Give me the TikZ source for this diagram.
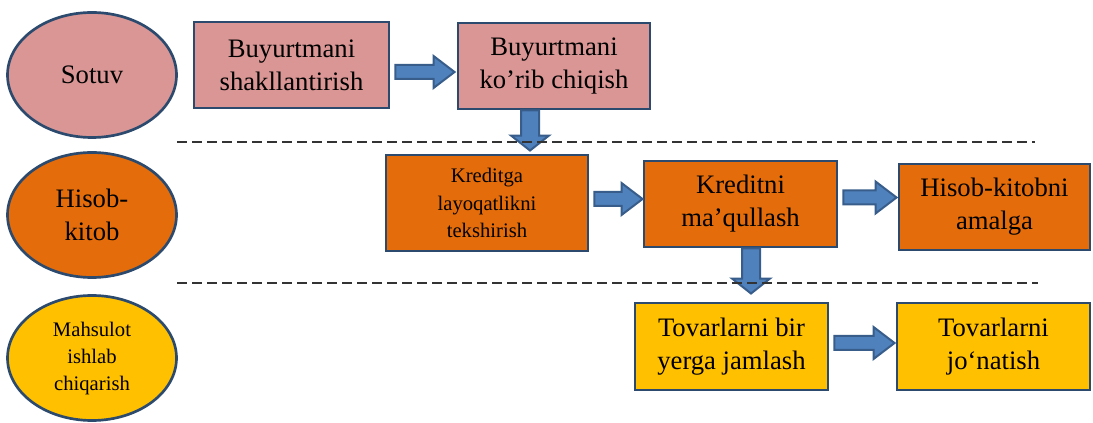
\documentclass[tikz,border=0pt]{standalone}
\usepackage{fontspec}
\setmainfont{Liberation Serif}
\usepackage{tikz}
\usetikzlibrary{calc, shapes}
\definecolor{sotuvpink}{RGB}{217,150,148}
\definecolor{hisoborange}{RGB}{228,108,10}
\definecolor{mahsulotyellow}{RGB}{255,192,0}
\definecolor{arrowblue}{RGB}{79,129,189}
\definecolor{arrowedge}{RGB}{56,93,138}
\definecolor{edgeblue}{RGB}{44,74,110}

\tikzset{
    stage/.style={draw=edgeblue, line width=2.2pt, align=center, inner sep=2pt, font=\fontsize{20}{24.75}\selectfont},
    dept/.style={ellipse, draw=edgeblue, line width=2pt, align=center, inner sep=0pt, minimum width=126.75pt, minimum height=93.75pt, font=\fontsize{20}{24.75}\selectfont},
    smalltext/.style={font=\fontsize{15.5}{20.6}\selectfont},
    blockarrow/.style={fill=arrowblue, draw=arrowedge, line width=1.5pt, line join=miter},
    lane/.style={dash pattern=on 7.5pt off 3.75pt, line width=1pt, black!80}
}

% block arrows (from, to, y, tip gap) and (from, to, x, tip gap)
\newcommand{\harrow}[4]{%
    \coordinate (tail) at (#1.east |- 0,#3);
    \coordinate (tip) at ($(#2.west |- 0,#3)+(-#4,0)$);
    \draw[blockarrow] ($(tail)+(5,-7)$) -- ($(tip)+(-21,-7)$) -- ($(tip)+(-21,-16)$) -- (tip)
        -- ($(tip)+(-21,16)$) -- ($(tip)+(-21,7)$) -- ($(tail)+(5,7)$) -- cycle;
}
\newcommand{\varrow}[4]{%
    \coordinate (tail) at (#3,0 |- #1.south);
    \coordinate (tip) at ($(#3,0 |- #2.north)+(0,-#4)$);
    \draw[blockarrow] ($(tail)+(-9,0)$) -- ($(tip)+(-9,-15)$) -- ($(tip)+(-19,-15)$) -- (tip)
        -- ($(tip)+(19,-15)$) -- ($(tip)+(9,-15)$) -- ($(tail)+(9,0)$) -- cycle;
}

\begin{document}
\begin{tikzpicture}[x=0.75pt, y=-0.75pt]
    \useasboundingbox (0,0) rectangle (1093,423);

    % Bo'limlar
    \node[dept, fill=sotuvpink] (sotuv) at (92,75) {Sotuv};
    \node[dept, fill=hisoborange] (hisob) at (92,215) {Hisob-\\kitob};
    \node[dept, fill=mahsulotyellow, smalltext] (mahsulot) at (92,358) {\raisebox{-5pt}{\begin{tabular}{@{}c@{}}Mahsulot\\ishlab\\chiqarish\end{tabular}}};

    % Jarayonlar
    \node[stage, fill=sotuvpink, minimum width=146.25pt, minimum height=64.5pt] (shakl) at (291.5,65) {Buyurtmani\\shakllantirish};
    \node[stage, fill=sotuvpink, minimum width=144pt, minimum height=64.5pt] (korib) at (554,66) {Buyurtmani\\ko’rib chiqish};
    \node[stage, fill=hisoborange, smalltext, minimum width=151.5pt, minimum height=72pt] (kredit) at (487,203) {Kreditga\\layoqatlikni\\tekshirish};
    \node[stage, fill=hisoborange, minimum width=144.75pt, minimum height=64.5pt] (maqul) at (740.5,204) {Kreditni\\ma’qullash};
    \node[stage, fill=hisoborange, minimum width=143.25pt, minimum height=64.5pt] (amalga) at (994.5,207) {Hisob-kitobni\\amalga};
    \node[stage, fill=mahsulotyellow, minimum width=144.75pt, minimum height=65.25pt] (jamlash) at (731.5,346.5) {Tovarlarni bir\\yerga jamlash};
    \node[stage, fill=mahsulotyellow, minimum width=144.75pt, minimum height=65.25pt] (jonatish) at (993.5,346.5) {Tovarlarni\\jo‘natish};

    % Strelkalar
    \harrow{shakl}{korib}{72}{2}
    \harrow{kredit}{maqul}{199}{0}
    \harrow{maqul}{amalga}{197.5}{1}
    \harrow{jamlash}{jonatish}{343}{1}
    \varrow{korib}{kredit}{530}{3}
    \varrow{maqul}{jamlash}{751}{8}

    % Chegaralar
    \draw[lane] (177,142) -- (1035,142);
    \draw[lane] (177,283) -- (1038,283);
\end{tikzpicture}
\end{document}
